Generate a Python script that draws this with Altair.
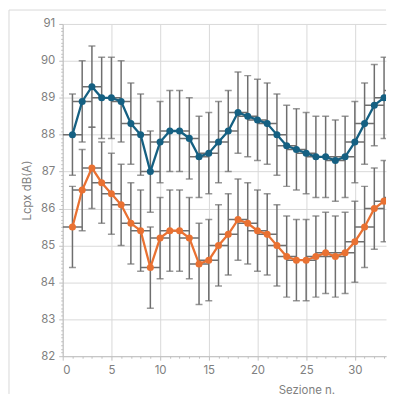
import altair as alt
import pandas as pd

# ---- data ----
sections = list(range(1, 35))
series_a = [88.0, 88.9, 89.3, 89.0, 89.0, 88.9, 88.3, 88.0, 87.0, 87.8,
            88.1, 88.1, 87.9, 87.4, 87.5, 87.8, 88.1, 88.6, 88.5, 88.4,
            88.3, 88.0, 87.7, 87.6, 87.5, 87.4, 87.4, 87.3, 87.4, 87.8,
            88.3, 88.8, 89.0, 89.2]
series_b = [85.5, 86.5, 87.1, 86.7, 86.4, 86.1, 85.6, 85.4, 84.4, 85.2,
            85.4, 85.4, 85.2, 84.5, 84.6, 85.0, 85.3, 85.7, 85.6, 85.4,
            85.3, 85.0, 84.7, 84.6, 84.6, 84.7, 84.8, 84.7, 84.8, 85.1,
            85.5, 86.0, 86.2, 86.3]
series_names = ["A", "B"]
series_colors = ["#156082", "#E97132"]
err_y = 1.1   # vertical error (dB)
err_x = 1.0   # horizontal error (sections)

x_ticks = list(range(0, 34))
y_ticks = [round(82 + i / 10, 1) for i in range(91)]

rows = []
for name, vals in zip(series_names, [series_a, series_b]):
    for s, v in zip(sections, vals):
        rows.append({"sez": s, "val": v, "serie": name})
df = pd.DataFrame(rows)
df["lo"] = df["val"] - err_y
df["hi"] = df["val"] + err_y
df["xl"] = df["sez"] - err_x
df["xr"] = df["sez"] + err_x

FONT = "Inter"
LABEL_COLOR = "#808080"
AXIS_COLOR = "#bfbfbf"
GRID_COLOR = "#d9d9d9"
BAR_COLOR = "#6e6e6e"

xscale = alt.Scale(domain=[0, 33.2], nice=False, zero=False)
yscale = alt.Scale(domain=[82, 91], nice=False, zero=False)

Y_MAJOR = "abs(datum.value - round(datum.value)) < 0.01"
X_MAJOR = "datum.value % 5 === 0"

x_axis = alt.Axis(
    values=x_ticks,
    tickCount=1000,
    labelExpr="datum.value % 5 === 0 ? format(datum.value, 'd') : ''",
    labelOverlap=False,
    gridOpacity={"condition": {"test": X_MAJOR, "value": 1}, "value": 0},
    tickSize={"condition": {"test": X_MAJOR, "value": 4}, "value": 2},
    title="Sezione n.",
    titleX=245,
    titlePadding=9,
)
y_axis = alt.Axis(
    values=y_ticks,
    tickCount=1000,
    labelExpr="abs(datum.value - round(datum.value)) < 0.01 ? format(datum.value, '.0f') : ''",
    labelOverlap=False,
    gridOpacity={"condition": {"test": Y_MAJOR, "value": 1}, "value": 0},
    tickSize={"condition": {"test": Y_MAJOR, "value": 4}, "value": 2},
    title="Lcpx  dB(A)",
    titlePadding=8,
)

base = alt.Chart(df)

vbars = base.mark_rule(color=BAR_COLOR, strokeWidth=1.5, clip=True).encode(
    x=alt.X("sez:Q", scale=xscale, axis=x_axis),
    y=alt.Y("lo:Q", scale=yscale, axis=y_axis),
    y2="hi:Q",
)
caps_lo = base.mark_tick(color=BAR_COLOR, orient="horizontal", size=7, thickness=1.5, clip=True).encode(
    x=alt.X("sez:Q", scale=xscale), y=alt.Y("lo:Q", scale=yscale)
)
caps_hi = base.mark_tick(color=BAR_COLOR, orient="horizontal", size=7, thickness=1.5, clip=True).encode(
    x=alt.X("sez:Q", scale=xscale), y=alt.Y("hi:Q", scale=yscale)
)
hbars = base.mark_rule(color=BAR_COLOR, strokeWidth=1.5, clip=True).encode(
    x=alt.X("xl:Q", scale=xscale), x2="xr:Q", y=alt.Y("val:Q", scale=yscale)
)
lines = base.mark_line(strokeWidth=2.3, clip=True,
                       point=alt.OverlayMarkDef(filled=True, size=50, opacity=1, clip=True)).encode(
    x=alt.X("sez:Q", scale=xscale),
    y=alt.Y("val:Q", scale=yscale),
    color=alt.Color("serie:N", scale=alt.Scale(domain=series_names, range=series_colors), legend=None),
    detail="serie:N",
)

frame_top = alt.Chart(alt.Data(values=[{}])).mark_rule(color=GRID_COLOR, strokeWidth=1).encode(
    x=alt.value(-54), x2=alt.value(325), y=alt.value(-14)
)
frame_left = alt.Chart(alt.Data(values=[{}])).mark_rule(color=GRID_COLOR, strokeWidth=1).encode(
    x=alt.value(-54), y=alt.value(-14), y2=alt.value(372)
)

chart = alt.layer(frame_top, frame_left, vbars, caps_lo, caps_hi, hbars, lines).properties(
    width=325, height=334, padding=0,
).configure_view(strokeWidth=0).configure_axis(
    domainColor=AXIS_COLOR, tickColor=AXIS_COLOR, gridColor=GRID_COLOR,
    labelColor=LABEL_COLOR, titleColor=LABEL_COLOR,
    labelFont=FONT, titleFont=FONT, labelFontSize=11.5, titleFontSize=11.5,
    titleFontWeight="normal", labelPadding=4,
)

chart.save("out.html", embed_options={"renderer": "svg", "actions": False})
